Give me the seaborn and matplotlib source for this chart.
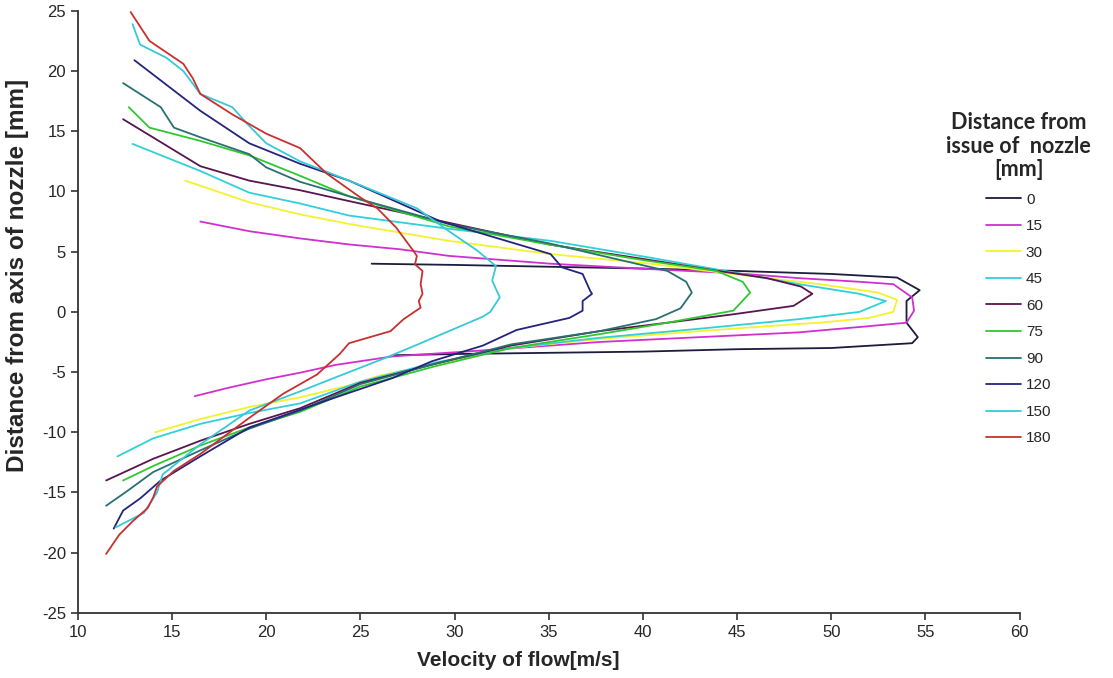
import numpy as np
import pandas as pd
import seaborn as sns
import matplotlib
matplotlib.use("Agg")
import matplotlib.pyplot as plt

# Velocity profiles: path goes from the upper end,
# round the nozzle axis and back out along the lower edge of the jet.
vel_0 = [25.6, 30, 35, 40, 45, 50, 53.5, 54.7, 54.0, 54.0, 54.6, 54.3, 50, 45, 40, 35, 30, 26.8]
dist_0 = [4.0, 3.9, 3.75, 3.6, 3.4, 3.15, 2.85, 1.8, 0.9, -0.9, -2.1, -2.6, -3.0, -3.1, -3.3, -3.4, -3.5, -3.6]

vel_15 = [16.5, 19.1, 21.8, 24.4, 27.1, 29.7, 35.1, 40.4, 45, 48.3, 51.5, 53.3, 54.3, 54.4, 54.0,
          51.9, 48.3, 43.0, 37.7, 33.3, 31.5, 26.7, 23.7, 21.8, 20, 18, 16.2]
dist_15 = [7.5, 6.7, 6.1, 5.6, 5.2, 4.65, 4.0, 3.55, 3.2, 2.8, 2.5, 2.3, 1.2, 0.1, -0.9,
           -1.2, -1.7, -2.1, -2.5, -3.0, -3.2, -3.7, -4.4, -5.05, -5.6, -6.3, -7.0]

vel_30 = [15.7, 19.1, 21.8, 24.4, 29.7, 35.1, 40.4, 45, 49.4, 52.5, 53.5, 53.3, 52, 49.4, 48.3,
          43, 37.7, 33, 30, 26, 24.4, 21.8, 19.1, 16.5, 14.1]
dist_30 = [10.9, 9.1, 8.1, 7.3, 5.9, 4.8, 4.0, 3.1, 2.3, 1.6, 1.0, 0.0, -0.5, -0.9, -1.0,
           -1.6, -2.25, -3.0, -4.0, -5.3, -6.1, -7.1, -7.9, -8.9, -10.0]

vel_45 = [12.9, 16.5, 19.1, 21.8, 24.4, 29.7, 35.1, 40.4, 44, 48.3, 51.5, 52.9, 51.5, 48.3, 43,
          37.7, 33, 29, 25, 21.8, 19.1, 16.5, 14, 12.1]
dist_45 = [13.95, 11.7, 9.9, 9.0, 8.0, 6.9, 5.9, 4.5, 3.5, 2.3, 1.5, 0.9, 0.0, -0.6, -1.4,
           -2.15, -3.0, -4.2, -5.8, -7.6, -8.4, -9.3, -10.5, -12.0]

vel_60 = [12.4, 16.5, 19.1, 21.8, 24.4, 29.7, 35, 40, 44, 46.6, 48.4, 49.0, 48, 44.8, 41.3,
          37.7, 33, 29, 25, 21.8, 19.1, 16.5, 14, 11.5]
dist_60 = [16.0, 12.1, 10.9, 10.1, 9.2, 7.4, 5.6, 4.4, 3.4, 2.8, 2.1, 1.5, 0.5, -0.2, -0.9,
           -1.6, -2.8, -4.3, -5.9, -8.0, -9.3, -10.7, -12.2, -14.0]

vel_75 = [12.7, 13.8, 16.5, 19.1, 21.8, 24.4, 29.7, 35, 40, 43.9, 45.3, 45.7, 44.8, 41.3, 37.7,
          33, 29, 25, 21.8, 19.1, 16.5, 14, 12.4]
dist_75 = [17.0, 15.3, 14.2, 13.0, 11.3, 9.6, 7.1, 5.6, 4.3, 3.4, 2.5, 1.6, 0.1, -0.9, -1.85,
           -3.0, -4.5, -6.2, -8.3, -9.6, -11.1, -12.8, -14.0]

vel_90 = [12.4, 14.4, 15.1, 16.5, 19.1, 20, 21.8, 24.4, 29.7, 35, 38, 41.3, 42.3, 42.6, 42,
          40.7, 37.7, 33, 29, 25, 21.8, 19.1, 16.5, 14, 12.6, 11.5]
dist_90 = [19.0, 17.0, 15.3, 14.5, 13.1, 12.0, 10.8, 9.6, 7.3, 5.7, 4.6, 3.4, 2.5, 1.6, 0.3,
           -0.6, -1.6, -2.7, -4.3, -6.0, -8.2, -9.7, -11.5, -13.3, -14.9, -16.1]

vel_120 = [13.0, 16.5, 19.1, 21.8, 24.4, 29.2, 35.1, 35.7, 36.8, 37.2, 37.3, 36.8, 36.8, 36.1,
           33.3, 31.5, 28.8, 26.7, 23.5, 19.1, 16.5, 14.4, 13.3, 12.4, 11.9]
dist_120 = [20.9, 16.7, 14.0, 12.3, 10.9, 7.55, 4.8, 3.7, 3.15, 1.75, 1.5, 0.9, 0.1, -0.5,
            -1.5, -2.8, -4.1, -5.5, -7.2, -9.6, -12.0, -14.0, -15.5, -16.5, -18.0]

vel_150 = [12.9, 13.3, 14.7, 15.6, 16.5, 18.2, 19.0, 20, 21.8, 24.4, 28, 29.7, 31.2, 32.2, 32.0,
           32.4, 31.9, 31.5, 29.7, 27.6, 26.2, 24.4, 21.8, 19.1, 16.5, 14.5, 14.2, 13.5, 12.0]
dist_150 = [23.9, 22.2, 21.1, 20.0, 18.1, 17.0, 15.6, 14.0, 12.5, 10.9, 8.6, 6.7, 5.1, 3.8, 2.6,
            1.2, 0.0, -0.4, -1.6, -3.0, -3.9, -5.0, -6.6, -8.2, -11.0, -13.5, -15.0, -16.7, -17.9]

vel_180 = [12.8, 13.8, 15.6, 16.1, 16.5, 18.2, 20, 21.8, 23.2, 25, 25.9, 26.9, 27.8, 28, 27.9,
           28.3, 28.2, 28.3, 28.1, 28.2, 27.3, 26.6, 24.4, 23.9, 22.7, 20.9, 19.1, 16.5, 15.1,
           14.2, 14.0, 13.7, 12.9, 12.2, 11.5]
dist_180 = [24.9, 22.5, 20.6, 19.4, 18.1, 16.4, 14.8, 13.6, 11.5, 9.5, 8.6, 7.0, 5.1, 4.65, 3.95,
            3.4, 2.3, 1.5, 0.9, 0.35, -0.6, -1.6, -2.6, -3.5, -5.2, -6.8, -8.8, -11.8, -13.2,
            -14.5, -15.4, -16.3, -17.4, -18.5, -20.1]

labels = ["0", "15", "30", "45", "60", "75", "90", "120", "150", "180"]
colors = ["#1c1c3c", "#d030d0", "#f2f230", "#30d0d8", "#5a1450",
          "#30c830", "#2a7070", "#24247e", "#38c8d8", "#c83030"]

velocities = [vel_0, vel_15, vel_30, vel_45, vel_60, vel_75, vel_90, vel_120, vel_150, vel_180]
distances = [dist_0, dist_15, dist_30, dist_45, dist_60, dist_75, dist_90, dist_120, dist_150, dist_180]

frames = []
for lab, v, d in zip(labels, velocities, distances):
    frames.append(pd.DataFrame({"Velocity": v, "Distance": d, "Nozzle": lab}))
df = pd.concat(frames, ignore_index=True)

sns.set_style("ticks")
plt.rcParams['font.family'] = ['Liberation Sans', 'DejaVu Sans']
plt.rcParams['axes.unicode_minus'] = False

fig = plt.figure(figsize=(11.13, 6.78), dpi=100)
ax = fig.add_axes([0.070, 0.096, 0.846, 0.888])

sns.lineplot(data=df, x="Velocity", y="Distance", hue="Nozzle", hue_order=labels,
             palette=dict(zip(labels, colors)), sort=False, estimator=None,
             linewidth=1.3, ax=ax)

ax.set_xlim(10, 60)
ax.set_ylim(-25, 25)
ax.set_xticks(np.arange(10, 61, 5))
ax.set_yticks(np.arange(-25, 26, 5))
ax.tick_params(axis="both", labelsize=12, direction="out", length=5, width=1.2, color="#333333")
for s in ["top", "right"]:
    ax.spines[s].set_visible(False)
for s in ["left", "bottom"]:
    ax.spines[s].set_color("#333333")
    ax.spines[s].set_linewidth(1.3)

ax.set_xlabel("Velocity of flow[m/s]", fontsize=15, fontweight="bold")
ax.set_ylabel("Distance from axis of nozzle [mm]", fontsize=17.5, fontweight="bold")
ax.xaxis.set_label_coords(0.468, -0.064)
ax.yaxis.set_label_coords(-0.052, 0.56)

handles, _ = ax.get_legend_handles_labels()
ax.legend_.remove()
leg = fig.legend(handles, labels, loc="upper left", bbox_to_anchor=(0.838, 0.855),
                 frameon=False, fontsize=11, handlelength=2.3, labelspacing=0.82,
                 title="Distance from\nissue of  nozzle\n[mm]", handletextpad=0.3)
leg.get_title().set_fontsize(15.5)
leg.get_title().set_multialignment("center")
leg.get_title().set_family(["Lato", "DejaVu Sans"])
leg.get_title().set_fontweight("bold")
leg.get_title().set_linespacing(1.15)
leg._legend_box.align = "center"

fig.savefig("out.png", dpi=100)
